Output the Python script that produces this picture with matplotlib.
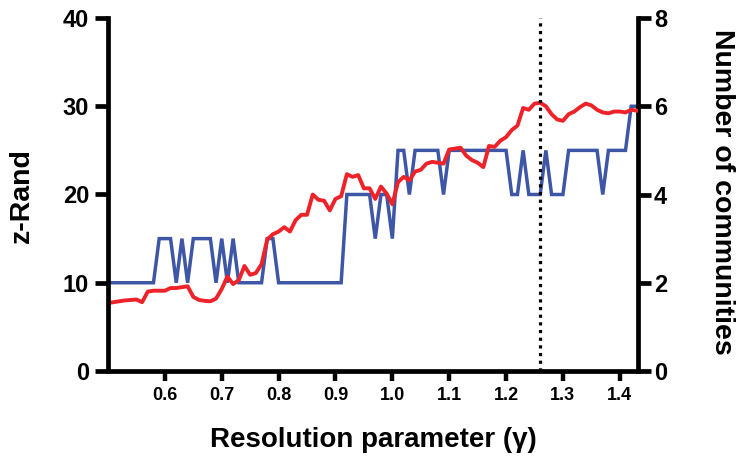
import numpy as np
import matplotlib
matplotlib.use("Agg")
import matplotlib.pyplot as plt

plt.rcParams['font.family'] = ['Liberation Sans', 'DejaVu Sans']
plt.rcParams['font.weight'] = 'bold'

# Resolution parameter grid (0.50 ... 1.43, step 0.01)
gamma = np.round(np.arange(50, 144) / 100.0, 2)

z_rand = [7.7, 7.8, 7.9, 8.0, 8.05, 8.1, 7.8, 9.0, 9.1, 9.1,
          9.1, 9.4, 9.4, 9.5, 9.6, 8.4, 8.05, 7.95, 7.9, 8.2,
          9.3, 10.7, 9.85, 10.3, 11.9, 10.9, 11.1, 12.1, 14.9, 15.5,
          15.8, 16.3, 15.8, 17.1, 17.7, 17.7, 20.0, 19.4, 19.3, 18.2,
          19.5, 19.8, 22.3, 22.0, 22.2, 20.7, 20.7, 19.5, 20.9, 20.1,
          18.9, 21.4, 22.0, 21.6, 22.6, 22.8, 23.5, 23.7, 23.6, 23.5,
          25.1, 25.2, 25.3, 24.4, 23.9, 23.6, 23.1, 25.5, 25.4, 26.1,
          26.5, 27.3, 27.8, 29.8, 29.6, 30.3, 30.4, 30.0, 29.1, 28.5,
          28.35, 29.1, 29.4, 29.9, 30.3, 30.1, 29.6, 29.3, 29.2, 29.4,
          29.4, 29.3, 29.6, 29.5]

n_comm = ([2] * 9 + [3, 3, 3] + [2] + [3] + [2] + [3] * 4 + [2] + [3] + [2] + [3]
          + [2] * 5 + [3, 3] + [2] * 12 + [4] * 5 + [3] + [4, 4] + [3] + [5, 5]
          + [4] + [5] * 5 + [4] + [5] * 11 + [4, 4] + [5] + [4, 4, 4] + [5]
          + [4, 4, 4] + [5] * 6 + [4] + [5] * 4 + [6, 6])

gamma_opt = 1.26

x_ticks = [0.6, 0.7, 0.8, 0.9, 1.0, 1.1, 1.2, 1.3, 1.4]
x_ticklabels = ["0.6", "0.7", "0.8", "0.9", "1.0", "1.1", "1.2", "1.3", "1.4"]
left_ticks = [0, 10, 20, 30, 40]
right_ticks = [0, 2, 4, 6, 8]

RED = "#EE2229"
BLUE = "#3E56A6"

fig = plt.figure(figsize=(7.41, 4.58), dpi=100)
ax = fig.add_axes([108/741, 1 - 371/458, (638-108)/741, (371-18)/458])
ax2 = ax.twinx()

ax2.plot(gamma, n_comm, color=BLUE, lw=2.5, solid_joinstyle='miter')
ax.plot(gamma, z_rand, color=RED, lw=2.8, solid_joinstyle='round')
ax.plot([gamma_opt, gamma_opt], [0, 40], color='black', lw=2.3,
        linestyle=(0, (1, 1.4)))

ax.set_zorder(ax2.get_zorder() + 1)
ax.patch.set_visible(False)

ax.set_xlim(0.5, 1.432)
ax.set_ylim(0, 40)
ax2.set_ylim(0, 8)

for a in (ax, ax2):
    a.spines['top'].set_visible(False)
    for s in ('left', 'right', 'bottom'):
        a.spines[s].set_linewidth(3.4)
ax.spines['right'].set_visible(False)
ax2.spines['left'].set_visible(False)
ax2.spines['bottom'].set_visible(False)

ax.set_xticks(x_ticks)
ax.set_xticklabels(x_ticklabels)
ax.set_yticks(left_ticks)
ax2.set_yticks(right_ticks)

ax.tick_params(axis='x', length=7.5, width=3.2, pad=4, labelsize=13)
ax.tick_params(axis='y', length=9.5, width=3.4, pad=4, labelsize=17)
ax2.tick_params(axis='y', length=9.5, width=3.4, pad=2, labelsize=17)
for lab in ax.get_xticklabels() + ax.get_yticklabels() + ax2.get_yticklabels():
    lab.set_fontweight('bold')

fig.text(22/741, 1 - 196/458, "z-Rand", rotation=90, ha='center', va='center',
         fontsize=20.5, fontweight='bold')
fig.text(722/741, 1 - 192/458, "Number of communities", rotation=270,
         ha='center', va='center', fontsize=20.5, fontweight='bold')
fig.text(373/741, 1 - 440/458, "Resolution parameter (γ)", ha='center',
         va='center', fontsize=20, fontweight='bold')

fig.savefig("out.png", dpi=100)
